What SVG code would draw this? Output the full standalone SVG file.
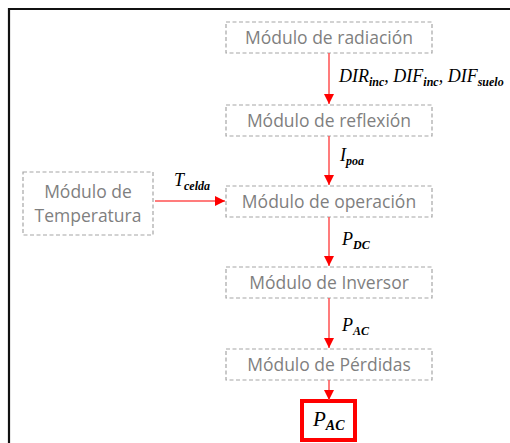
<svg xmlns="http://www.w3.org/2000/svg" width="510" height="443" viewBox="0 0 510 443">
<defs>
<marker id="ah" viewBox="0 0 10 10" refX="10" refY="5" markerWidth="10" markerHeight="10" markerUnits="userSpaceOnUse" orient="auto">
<path d="M0,0 L10,5 L0,10 Z" fill="#ff0000"/>
</marker>
<style>
.box{fill:#fff;stroke:#a6a6a6;stroke-width:1.2;stroke-dasharray:4 2.5}
.lbl{font-family:"Open Sans","Liberation Sans",sans-serif;font-size:17.5px;fill:#7f7f7f;text-anchor:middle}
.m{font-family:"Liberation Serif",serif;font-style:italic;font-size:18px;fill:#000}
.s{font-size:12px;font-weight:bold}
.conn{stroke:#ff5050;stroke-width:1.5;fill:none;marker-end:url(#ah)}
</style>
</defs>
<rect width="510" height="443" fill="#fff"/>
<path d="M9,443 V9 H510" fill="none" stroke="#111" stroke-width="2.2"/>
<g id="n-radiacion"><rect class="box" x="226" y="22" width="206" height="31"/><text class="lbl" x="329" y="44">Módulo de radiación</text></g>
<g id="n-reflexion"><rect class="box" x="226" y="105" width="206" height="31"/><text class="lbl" x="329" y="127">Módulo de reflexión</text></g>
<g id="n-operacion"><rect class="box" x="226" y="186" width="206" height="31"/><text class="lbl" x="329" y="208">Módulo de operación</text></g>
<g id="n-inversor"><rect class="box" x="226" y="267" width="206" height="31"/><text class="lbl" x="329" y="289">Módulo de Inversor</text></g>
<g id="n-perdidas"><rect class="box" x="226" y="349" width="206" height="31"/><text class="lbl" x="329" y="371">Módulo de Pérdidas</text></g>
<g id="n-temperatura"><rect class="box" x="23" y="172" width="130" height="63"/><text class="lbl" x="88" y="198">Módulo de</text><text class="lbl" x="88" y="222">Temperatura</text></g>
<g id="n-pac"><rect x="302" y="401" width="53" height="39" fill="#fff" stroke="#ff0000" stroke-width="4"/><text class="m" x="313" y="426" style="font-size:21px">P<tspan class="s" dy="4" style="font-size:14px">AC</tspan></text></g>
<g id="connectors">
<line class="conn" x1="329" y1="53" x2="329" y2="104"/>
<line class="conn" x1="329" y1="136" x2="329" y2="185"/>
<line class="conn" x1="329" y1="217" x2="329" y2="266"/>
<line class="conn" x1="329" y1="298" x2="329" y2="348"/>
<line class="conn" x1="329" y1="380" x2="329" y2="400"/>
<line class="conn" x1="155" y1="201" x2="225" y2="201"/>
<text class="m" x="339" y="82">DIR<tspan class="s" dy="4">inc</tspan><tspan dy="-4">, DIF</tspan><tspan class="s" dy="4">inc</tspan><tspan dy="-4">, DIF</tspan><tspan class="s" dy="4">suelo</tspan></text>
<text class="m" x="340" y="161">I<tspan class="s" dy="4">poa</tspan></text>
<text class="m" x="342" y="245">P<tspan class="s" dy="4">DC</tspan></text>
<text class="m" x="342" y="331">P<tspan class="s" dy="4">AC</tspan></text>
<text class="m" x="174" y="186">T<tspan class="s" dy="4">celda</tspan></text>
</g>
</svg>
